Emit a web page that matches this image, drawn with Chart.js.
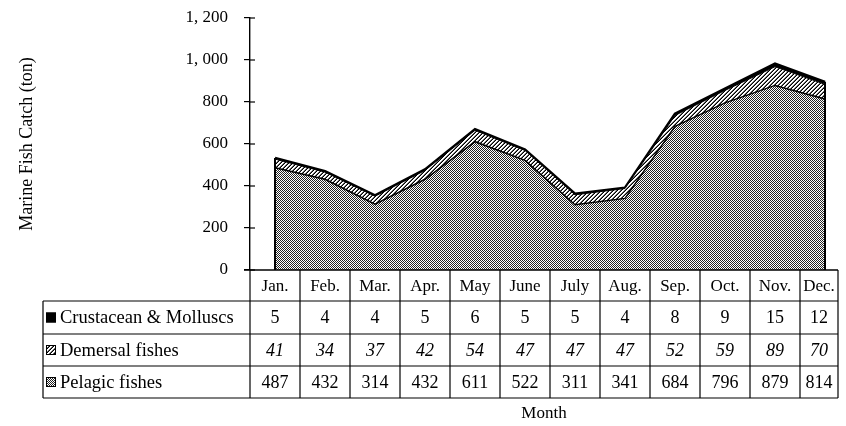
<!DOCTYPE html>
<html><head><meta charset="utf-8">
<script src="https://cdn.jsdelivr.net/npm/chart.js@4"></script>
<style>html,body{margin:0;padding:0;background:#fff;}canvas{display:block;}</style>
</head><body>
<canvas id="c" width="846" height="426"></canvas>
<script>
const months = ['Jan.','Feb.','Mar.','Apr.','May','June','July','Aug.','Sep.','Oct.','Nov.','Dec.'];
const crustacean = [5,4,4,5,6,5,5,4,8,9,15,12];
const demersal = [41,34,37,42,54,47,47,47,52,59,89,70];
const pelagic = [487,432,314,432,611,522,311,341,684,796,879,814];
const seriesNames = ['Crustacean & Molluscs','Demersal fishes','Pelagic fishes'];
const yTitle = 'Marine Fish Catch (ton)';
const xTitle = 'Month';

const FONT = "'Liberation Serif', 'Times New Roman', serif";

function makePattern(kind){
  const c = document.createElement('canvas');
  const n = kind === 'dots' ? 2 : 4;
  c.width = n; c.height = n;
  const g = c.getContext('2d');
  g.fillStyle = '#fff'; g.fillRect(0,0,n,n);
  for (let x=0;x<n;x++) for (let y=0;y<n;y++){
    if (kind === 'dots' && (x+y)%2===0){ g.fillStyle='#222'; g.fillRect(x,y,1,1); }
    if (kind === 'hatch' && ((x+y)%4===3 || (x+y)%4===2)){ g.fillStyle = (x+y)%4===3 ? '#000' : '#666'; g.fillRect(x,y,1,1); }
  }
  return document.getElementById('c').getContext('2d').createPattern(c,'repeat');
}
const patDots = makePattern('dots');
const patHatch = makePattern('hatch');

const toPts = arr => arr.map((v,i)=>({x:i,y:v}));

const tablePlugin = {
  id:'table',
  afterDatasetsDraw(chart){
    const ctx = chart.ctx, x = chart.scales.x, y = chart.scales.y;
    const n = months.length;
    const y0 = y.getPixelForValue(0);
    const tot = i => pelagic[i]+demersal[i]+crustacean[i];
    ctx.save();
    ctx.strokeStyle = '#000'; ctx.lineWidth = 2;
    [0, n-1].forEach(i=>{
      const px = x.getPixelForValue(i);
      ctx.beginPath(); ctx.moveTo(px, y0); ctx.lineTo(px, y.getPixelForValue(tot(i))); ctx.stroke();
    });
    ctx.restore();
  },
  afterDraw(chart){
    const ctx = chart.ctx, x = chart.scales.x, y = chart.scales.y;
    const ca = chart.chartArea;
    const n = months.length;
    const y0 = y.getPixelForValue(0);
    const rows = [y0, 301, 334, 366, 398];
    const tableLeft = 43;
    const right = ca.right;
    const bounds = [];
    for (let i=0;i<=n;i++) bounds.push(Math.min(x.getPixelForValue(i-0.5), right));
    ctx.save();
    ctx.strokeStyle = '#000'; ctx.lineWidth = 1.2;
    y.ticks.forEach(t=>{
      const py = y.getPixelForValue(t.value);
      ctx.beginPath(); ctx.moveTo(ca.left, py); ctx.lineTo(ca.left+5, py); ctx.stroke();
    });
    ctx.lineWidth = 1.4;
    ctx.beginPath(); ctx.moveTo(ca.left-6, y0); ctx.lineTo(right, y0); ctx.stroke();
    ctx.lineWidth = 1.2;
    for (let r=1;r<rows.length;r++){
      ctx.beginPath(); ctx.moveTo(tableLeft, rows[r]); ctx.lineTo(right, rows[r]); ctx.stroke();
    }
    ctx.beginPath(); ctx.moveTo(tableLeft, rows[1]); ctx.lineTo(tableLeft, rows[4]); ctx.stroke();
    bounds.forEach(bx=>{ ctx.beginPath(); ctx.moveTo(bx, y0); ctx.lineTo(bx, rows[4]); ctx.stroke(); });
    ctx.fillStyle = '#000'; ctx.textAlign = 'center'; ctx.textBaseline = 'middle';
    ctx.font = '17px ' + FONT;
    months.forEach((m,i)=>{ ctx.fillText(m, (bounds[i]+bounds[i+1])/2, (rows[0]+rows[1])/2 + 1); });
    const series = [crustacean, demersal, pelagic];
    series.forEach((arr, r)=>{
      ctx.font = (r===1 ? 'italic ' : '') + '18px ' + FONT;
      arr.forEach((v,i)=>{ ctx.fillText(String(v), (bounds[i]+bounds[i+1])/2, (rows[r+1]+rows[r+2])/2 + 1); });
    });
    const fills = ['#000', patHatch, patDots];
    ctx.textAlign = 'left'; ctx.font = '18.5px ' + FONT;
    seriesNames.forEach((s, r)=>{
      const cy = (rows[r+1]+rows[r+2])/2;
      ctx.fillStyle = fills[r]; ctx.fillRect(46, cy-5, 10, 10);
      ctx.lineWidth = 1; ctx.strokeStyle = '#000'; ctx.strokeRect(46.5, cy-4.5, 9, 9);
      ctx.fillStyle = '#000'; ctx.fillText(s, 60, cy + 1);
    });
    ctx.textAlign = 'center'; ctx.font = '17px ' + FONT;
    ctx.fillText(xTitle, (ca.left + right)/2, 414);
    ctx.restore();
  }
};

new Chart(document.getElementById('c'), {
  type: 'line',
  data: {
    datasets: [
      { label: seriesNames[2], data: toPts(pelagic), fill: 'origin', backgroundColor: patDots, borderColor: '#000', borderWidth: 1.5, pointRadius: 0, tension: 0 },
      { label: seriesNames[1], data: toPts(demersal), fill: '-1', backgroundColor: patHatch, borderColor: '#000', borderWidth: 1, pointRadius: 0, tension: 0 },
      { label: seriesNames[0], data: toPts(crustacean), fill: '-1', backgroundColor: '#000', borderColor: '#000', borderWidth: 2.5, pointRadius: 0, tension: 0 }
    ]
  },
  options: {
    responsive: false, animation: false,
    layout: { padding: { left: 0, right: 8, top: 18, bottom: 156 } },
    plugins: { legend: { display: false }, tooltip: { enabled: false } },
    scales: {
      x: { type: 'linear', display: false, min: -0.5, max: 11.26 },
      y: {
        stacked: true, min: 0, max: 1200,
        afterFit(s){ s.width = 250; s.paddingTop = 0; s.paddingBottom = 0; },
        border: { display: true, color: '#000', width: 1.4 },
        grid: { drawOnChartArea: false, drawTicks: true, tickLength: 6, color: '#000', lineWidth: 1.2 },
        ticks: { stepSize: 200, padding: 16, color: '#000', font: { family: FONT, size: 17 },
          callback: v => v.toLocaleString('en-US').replace(',', ', ') },
        title: { display: true, text: yTitle, color: '#000', font: { family: FONT, size: 18 }, padding: { top: 16, bottom: 0 } }
      }
    }
  },
  plugins: [tablePlugin]
});
</script>
</body></html>
